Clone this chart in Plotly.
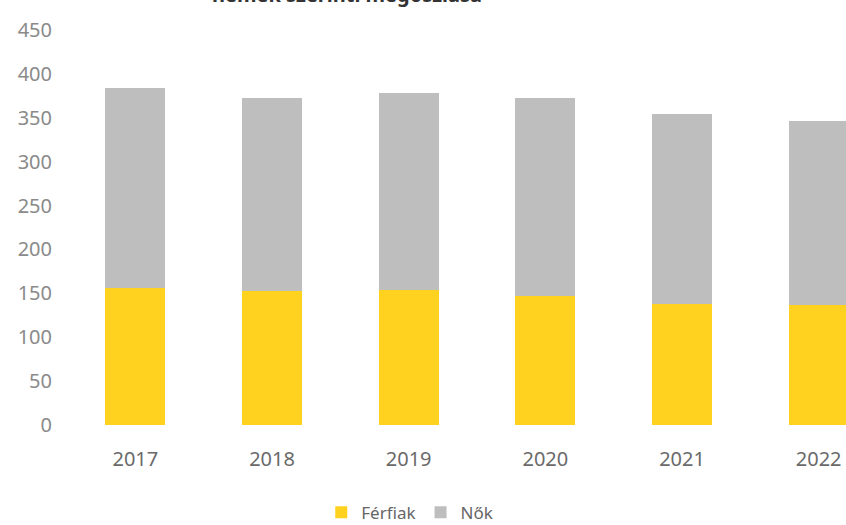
import plotly.graph_objects as go

years = ["2017", "2018", "2019", "2020", "2021", "2022"]
ferfiak = [156, 153, 154, 147, 138, 137]
nok = [228, 220, 224, 225, 216, 209]
y_ticks = [0, 50, 100, 150, 200, 250, 300, 350, 400, 450]
title_text = "nemek szerinti megoszlása"

fig = go.Figure()
fig.add_trace(go.Bar(x=years, y=ferfiak, name="Férfiak", marker_color="#FFD21F",
                     marker_line_width=0, width=0.44))
fig.add_trace(go.Bar(x=years, y=nok, name="Nők", marker_color="#BFBEBF",
                     marker_line_width=0, width=0.44))

fig.update_layout(
    barmode="stack",
    width=846, height=525,
    margin=dict(l=67, r=0, t=30, b=100, autoexpand=False),
    paper_bgcolor="white", plot_bgcolor="white",
    showlegend=True,
    legend=dict(orientation="h", x=0.44, xanchor="center", y=-0.222, yanchor="middle",
                font=dict(family="Noto Sans", size=17, color="#666666"),
                itemwidth=30, traceorder="normal"),
    annotations=[dict(text="<b>" + title_text + "</b>", xref="paper", yref="paper",
                      x=0.36, y=1.05, xanchor="center", yanchor="bottom", showarrow=False,
                      font=dict(family="Noto Sans", size=20, color="#333333"))],
)
fig.update_xaxes(type="category", range=[-0.5, 5.2], showgrid=False, zeroline=False,
                 showline=False, ticks="", ticklabelstandoff=20,
                 tickfont=dict(family="Noto Sans", size=20, color="#6a6a6a"))
fig.update_yaxes(range=[0, 450], tickvals=y_ticks, showgrid=False, zeroline=False,
                 showline=False, ticks="", ticklabelstandoff=14,
                 tickfont=dict(family="Noto Sans", size=20, color="#8a8a8a"))

fig.write_html("out.html", config={"displayModeBar": False},
               post_script="document.body.style.margin='0';document.body.style.overflow='hidden';")
